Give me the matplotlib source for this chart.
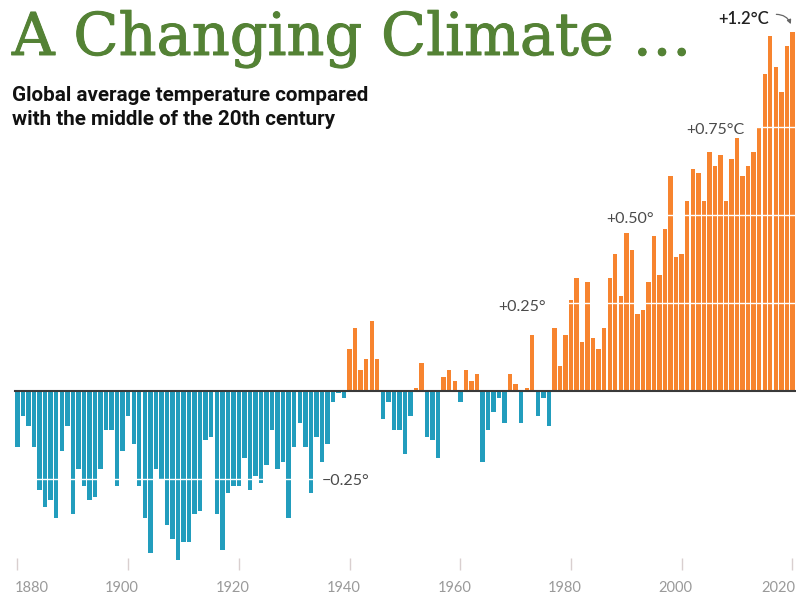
import numpy as np
import matplotlib
matplotlib.use("Agg")
import matplotlib.pyplot as plt
import matplotlib.patheffects as pe

# global temperature anomaly (deg C), 1880-2020
years = np.arange(1880, 2021)
temps = [
    -0.16, -0.07, -0.10, -0.16, -0.28, -0.33, -0.31, -0.36, -0.17, -0.10,
    -0.35, -0.22, -0.27, -0.31, -0.30, -0.22, -0.11, -0.11, -0.27, -0.17,
    -0.07, -0.15, -0.27, -0.36, -0.46, -0.22, -0.25, -0.38, -0.42, -0.48,
    -0.43, -0.43, -0.35, -0.34, -0.14, -0.13, -0.35, -0.45, -0.29, -0.27,
    -0.27, -0.19, -0.28, -0.24, -0.26, -0.21, -0.11, -0.22, -0.20, -0.36,
    -0.16, -0.09, -0.16, -0.29, -0.13, -0.20, -0.15, -0.03, -0.005, -0.02,
    0.12, 0.18, 0.06, 0.09, 0.20, 0.09, -0.08, -0.03, -0.11, -0.11,
    -0.18, -0.07, 0.01, 0.08, -0.13, -0.14, -0.19, 0.04, 0.06, 0.03,
    -0.03, 0.06, 0.03, 0.05, -0.20, -0.11, -0.06, -0.02, -0.09, 0.05,
    0.02, -0.09, 0.01, 0.16, -0.07, -0.02, -0.10, 0.18, 0.07, 0.16,
    0.26, 0.32, 0.14, 0.31, 0.15, 0.12, 0.18, 0.32, 0.39, 0.27,
    0.45, 0.40, 0.22, 0.23, 0.31, 0.44, 0.33, 0.46, 0.61, 0.38,
    0.39, 0.54, 0.63, 0.62, 0.54, 0.68, 0.64, 0.67, 0.54, 0.66,
    0.72, 0.61, 0.64, 0.68, 0.75, 0.90, 1.01, 0.92, 0.85, 0.98,
    1.02,
]
tick_years = [1880, 1900, 1920, 1940, 1960, 1980, 2000, 2020]
grid_levels = [-0.25, 0.25, 0.50, 0.75]
# annotations: (text, x year, y value)
notes = [("\u22120.25\u00b0", 1935.0, -0.256),
         ("+0.25\u00b0", 1966.8, 0.239),
         ("+0.50\u00b0", 1986.4, 0.488),
         ("+0.75\u00b0C", 2000.9, 0.741)]

blue = "#229dbd"
orange = "#f7842f"

fig = plt.figure(figsize=(7.96, 5.96), dpi=100)
ax = fig.add_axes([0, 0, 1, 1])
ax.set_xlim(1876.84, 2020.65)
ax.set_ylim(-0.582, 1.111)
ax.axis("off")

temps = np.array(temps)
cols = np.where(temps > 0, orange, blue)
ax.bar(years, temps, width=0.8, color=cols, zorder=2)

for g in grid_levels:
    ax.axhline(g, color="white", lw=1.0, zorder=3)

ax.plot([1879.5, 2020.65], [0, 0], color="#3a3a3a", lw=1.5, zorder=4)

# x ticks
ax.vlines(tick_years, -0.509, -0.474, color="#d9cfcf", lw=1)
for i, y in enumerate(tick_years):
    if i == 0:
        x, ha = y - 0.5, "left"
    elif i == len(tick_years) - 1:
        x, ha = y + 0.5, "right"
    else:
        x, ha = y - 1.1, "center"
    ax.text(x, -0.56, str(y), ha=ha, va="center", fontsize=10.5,
            color="#9a9a9a", family="Lato")

for txt, x, y in notes:
    ax.text(x, y, txt, ha="left", va="center", fontsize=11.5,
            color="#4a4a4a", family="Lato", zorder=5)

ax.text(2006.6, 1.058, "+1.2\u00b0C", ha="left", va="center", fontsize=12,
        color="#222222", family="Lato", fontweight="semibold", zorder=5)
ax.annotate("", xy=(2019.9, 1.035), xytext=(2016.6, 1.07),
            arrowprops=dict(arrowstyle="-|>", color="#666666", lw=0.9,
                            mutation_scale=6,
                            connectionstyle="arc3,rad=-0.4"))

fig.text(12 / 796, 1 - 55 / 596, "A Changing Climate \u2026", ha="left",
         va="baseline", fontsize=42.5, color="#548235", family="DejaVu Serif",
         path_effects=[pe.withStroke(linewidth=0.7, foreground="#548235")])
fig.text(12 / 796, 1 - 101 / 596, "Global average temperature compared",
         ha="left", va="baseline", fontsize=14.9, fontweight="bold",
         color="#111111", family="Roboto")
fig.text(12 / 796, 1 - 125 / 596, "with the middle of the 20th century",
         ha="left", va="baseline", fontsize=14.9, fontweight="bold",
         color="#111111", family="Roboto")

fig.savefig("out.png", dpi=100)
